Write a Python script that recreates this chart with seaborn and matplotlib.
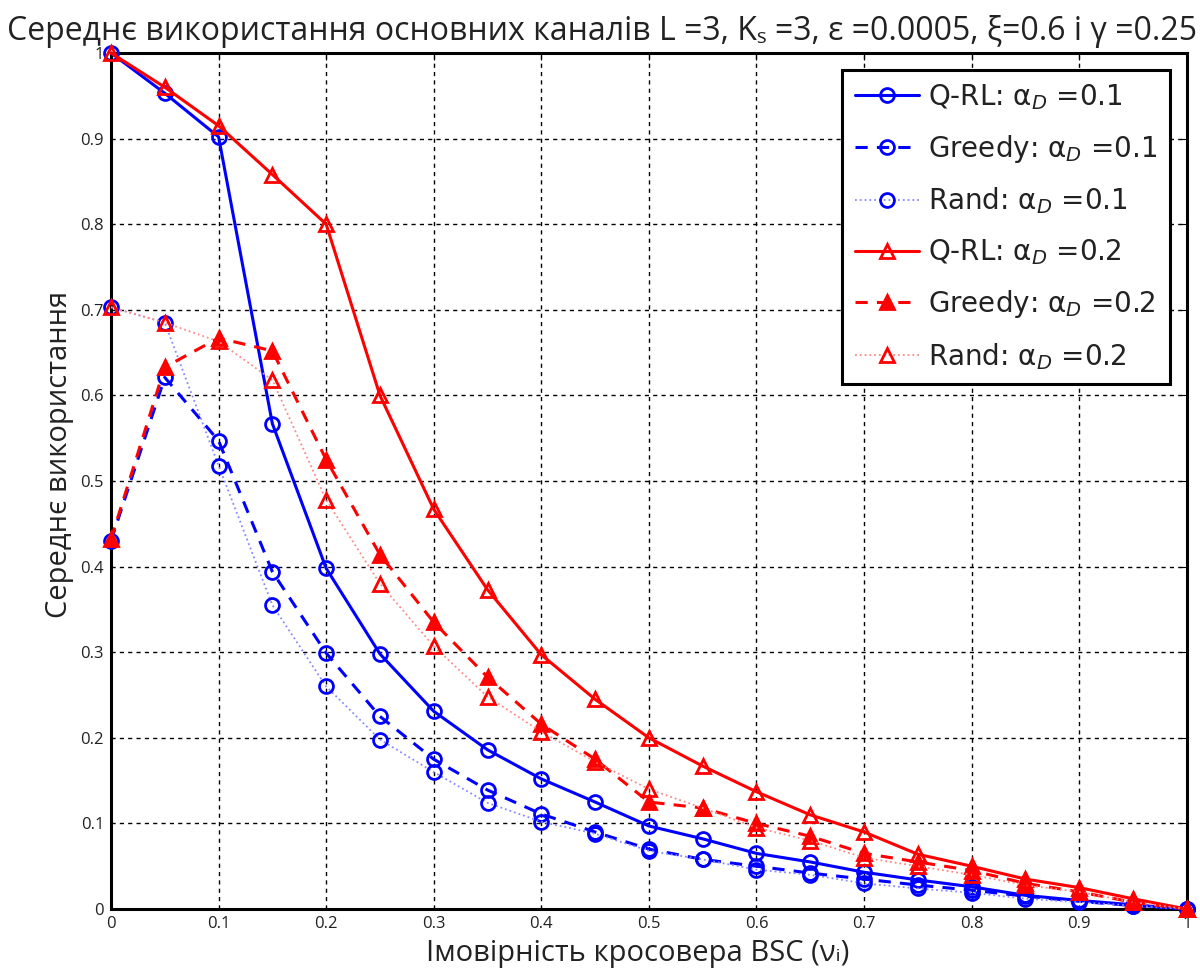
import numpy as np
import pandas as pd
import matplotlib
matplotlib.use("Agg")
import matplotlib.pyplot as plt
import seaborn as sns

x = [0, 0.05, 0.1, 0.15, 0.2, 0.25, 0.3, 0.35, 0.4, 0.45, 0.5,
     0.55, 0.6, 0.65, 0.7, 0.75, 0.8, 0.85, 0.9, 0.95, 1.0]

qrl_01 = [1.0, 0.953, 0.902, 0.567, 0.398, 0.298, 0.231, 0.186, 0.152, 0.125, 0.097,
          0.082, 0.065, 0.055, 0.043, 0.034, 0.026, 0.016, 0.010, 0.005, 0.0]
greedy_01 = [0.430, 0.621, 0.547, 0.394, 0.299, 0.225, 0.175, 0.139, 0.111, 0.090, 0.070,
             0.058, 0.050, 0.042, 0.035, 0.028, 0.022, 0.015, 0.009, 0.004, 0.0]
rand_01 = [0.703, 0.685, 0.518, 0.355, 0.260, 0.198, 0.160, 0.124, 0.102, 0.088, 0.068,
           0.058, 0.046, 0.040, 0.030, 0.024, 0.019, 0.012, 0.008, 0.004, 0.0]
qrl_02 = [1.0, 0.960, 0.915, 0.858, 0.800, 0.600, 0.467, 0.373, 0.297, 0.245, 0.200,
          0.167, 0.137, 0.110, 0.090, 0.064, 0.050, 0.035, 0.025, 0.012, 0.0]
greedy_02 = [0.432, 0.633, 0.667, 0.652, 0.525, 0.414, 0.335, 0.271, 0.216, 0.175, 0.125,
             0.118, 0.100, 0.085, 0.065, 0.055, 0.045, 0.030, 0.020, 0.008, 0.0]
rand_02 = [0.703, 0.685, 0.663, 0.618, 0.478, 0.380, 0.307, 0.248, 0.207, 0.172, 0.140,
           0.118, 0.095, 0.080, 0.060, 0.050, 0.040, 0.028, 0.020, 0.008, 0.0]

labels = [r"Q-RL: α$_{\mathit{D}}$ =0.1", r"Greedy: α$_{\mathit{D}}$ =0.1",
          r"Rand: α$_{\mathit{D}}$ =0.1", r"Q-RL: α$_{\mathit{D}}$ =0.2",
          r"Greedy: α$_{\mathit{D}}$ =0.2", r"Rand: α$_{\mathit{D}}$ =0.2"]
xticks = [0, 0.1, 0.2, 0.3, 0.4, 0.5, 0.6, 0.7, 0.8, 0.9, 1]
xtick_labels = ["0", "0.1", "0.2", "0.3", "0.4", "0.5", "0.6", "0.7", "0.8", "0.9", "1"]

sns.set_style("white")
plt.rcParams['font.family'] = ['Open Sans', 'DejaVu Sans']
plt.rcParams['mathtext.fontset'] = 'dejavusans'

fig = plt.figure(figsize=(12, 9.74), dpi=100)
ax = fig.add_axes([0.0925, 0.0667, 0.8965, 0.8789])

series = [qrl_01, greedy_01, rand_01, qrl_02, greedy_02, rand_02]
styles = [
    dict(color="#0000ff", linestyle="-", marker="o", mfc="none", lw=2.2),
    dict(color="#0000ff", linestyle=(0, (4, 3)), marker="o", mfc="none", lw=2.2),
    dict(color="#8888ff", linestyle=":", marker="o", mfc="none", lw=1.3),
    dict(color="#ff0000", linestyle="-", marker="^", mfc="none", lw=2.2),
    dict(color="#ff0000", linestyle=(0, (4, 3)), marker="^", mfc="#ff0000", lw=2.2),
    dict(color="#ff8888", linestyle=":", marker="^", mfc="none", lw=1.3),
]
mec = ["#0000ff", "#0000ff", "#0000ff", "#ff0000", "#ff0000", "#ff0000"]

for vals, lab, st, ec in zip(series, labels, styles, mec):
    df = pd.DataFrame({"x": x, "y": vals})
    sns.lineplot(data=df, x="x", y="y", ax=ax, label=lab, color=st["color"],
                 linestyle=st["linestyle"], linewidth=st["lw"], marker=st["marker"],
                 markersize=10, markerfacecolor=st["mfc"], markeredgecolor=ec,
                 markeredgewidth=2.0, clip_on=False, zorder=3)

ax.set_xlim(0, 1)
ax.set_ylim(0, 1)
ax.set_xticks(xticks)
ax.set_xticklabels(xtick_labels)
ax.set_yticks(xticks)
ax.set_yticklabels(xtick_labels)
ax.tick_params(axis="both", labelsize=12, length=5, direction="in", color="black",
               labelcolor="#222222", pad=5)
ax.tick_params(top=True, right=True)
ax.grid(True, color="black", linestyle=(0, (3, 3)), linewidth=1.0)
for sp in ax.spines.values():
    sp.set_color("black")
    sp.set_linewidth(2.2)

fig.text(0.502, 0.9585, "Середнє використання основних каналів L =3, Kₛ =3, ε =0.0005, ξ=0.6 і γ =0.25",
         fontsize=23, color="#222222", ha="center", va="baseline")
ax.set_xlabel("Імовірність кросовера BSC (νᵢ)", fontsize=21, color="#222222")
ax.set_ylabel("Середнє використання", fontsize=21, color="#222222")
ax.yaxis.set_label_coords(-0.034, 0.531)
ax.xaxis.set_label_coords(0.49, -0.035)

leg = ax.legend(loc="upper right", frameon=True, fancybox=False,
                prop={"family": ["DejaVu Sans"], "size": 20},
                borderpad=0.45, labelspacing=0.75, handlelength=2.3, handletextpad=0.35,
                borderaxespad=0.6)
leg.get_frame().set_edgecolor("black")
leg.get_frame().set_linewidth(2.2)
leg.get_frame().set_alpha(1.0)
for t in leg.get_texts():
    t.set_color("#222222")

fig.savefig("out.png", dpi=100)
